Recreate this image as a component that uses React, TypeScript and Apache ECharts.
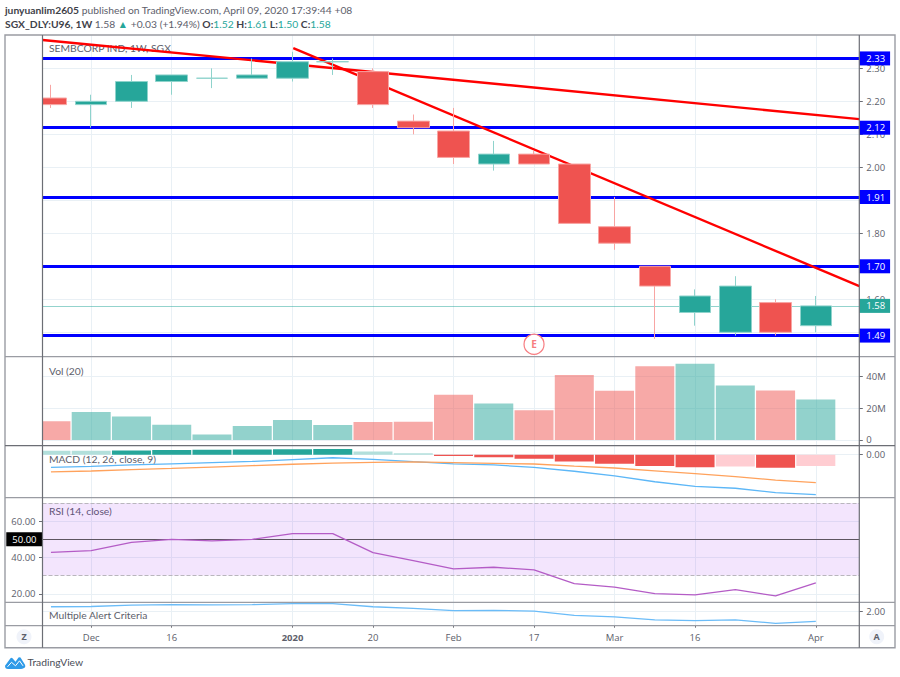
import React, { useEffect, useRef } from "react";
import * as echarts from "echarts";

const opens = [2.21, 2.19, 2.2, 2.26, 2.27, 2.27, 2.27, 2.32, 2.29, 2.14, 2.11, 2.01, 2.04, 2.01, 1.82, 1.7, 1.56, 1.5, 1.59, 1.52];
const closes = [2.19, 2.2, 2.26, 2.28, 2.27, 2.28, 2.32, 2.32, 2.19, 2.12, 2.03, 2.04, 2.01, 1.83, 1.77, 1.64, 1.61, 1.64, 1.5, 1.58];
const lows = [2.18, 2.12, 2.18, 2.22, 2.24, 2.27, 2.26, 2.28, 2.18, 2.1, 2.01, 1.99, 2.01, 1.83, 1.75, 1.48, 1.52, 1.49, 1.49, 1.5];
const highs = [2.25, 2.22, 2.28, 2.28, 2.3, 2.33, 2.35, 2.33, 2.3, 2.16, 2.18, 2.08, 2.05, 2.01, 1.91, 1.7, 1.63, 1.67, 1.6, 1.61];
const volumes = [11.8, 17.7, 14.8, 9.7, 3.5, 8.9, 12.6, 9.5, 11.3, 11.5, 28.5, 23.1, 18.8, 41, 31.1, 46.6, 48.2, 34.4, 31.3, 25.6];
const macdHist = [0.017, 0.017, 0.018, 0.02, 0.021, 0.022, 0.023, 0.024, 0.014, 0.006, -0.006, -0.011, -0.017, -0.029, -0.039, -0.049, -0.054, -0.051, -0.056, -0.049];
const macdLine = [-0.054, -0.05, -0.044, -0.039, -0.034, -0.029, -0.021, -0.013, -0.02, -0.03, -0.039, -0.044, -0.054, -0.071, -0.091, -0.116, -0.136, -0.144, -0.163, -0.171];
const signalLine = [-0.074, -0.07, -0.064, -0.059, -0.053, -0.047, -0.041, -0.036, -0.033, -0.031, -0.034, -0.037, -0.04, -0.049, -0.057, -0.069, -0.081, -0.094, -0.109, -0.12];
const rsi = [42.8, 43.8, 48.3, 50, 49.1, 50, 53.1, 53.1, 42.7, 38.3, 33.7, 34.6, 33.1, 25.6, 23.6, 20.1, 19.4, 22.3, 18.8, 26];

const timeTicks = [1, 3, 6, 8, 10, 12, 14, 16, 19];
const timeLabels = ["Dec", "16", "2020", "20", "Feb", "17", "Mar", "16", "Apr"];
const priceTicks = [1.5, 1.6, 1.7, 1.8, 1.9, 2.0, 2.1, 2.2, 2.3];
const priceLabels = [1.6, 1.8, 2.0, 2.1, 2.2, 2.3];
const levels = [2.33, 2.12, 1.91, 1.7, 1.49];
const lastClose = 1.58;
const trendA = [[-0.21, 2.386], [20.08, 2.146]];
const trendB = [[6.02, 2.361], [20.08, 1.64]];
const earningsAt = [12, 1.4636];

const X_MIN = -0.21;
const X_MAX = 20.08;
const UP = "#26a69a";
const DOWN = "#ef5350";
const FONT = "'Open Sans', sans-serif";
const LABEL_FONT = "Lato, sans-serif";
const LABEL_SIZE = 10.3;
const GRID_C = "#e9f0f5";
const TEXT_C = "#5d606b";
const FRAME = "#9a9ca3";
const DARK = "#6c6e75";

const left = 42.5;
const right = 859.3;
const paneY = [35, 356.7, 445.7, 497.7, 602.3, 625.7];
const bottomY = 647.7;

const logoPath =
  "M0 9 L5.5 1.5 Q6.5 0.5 7.5 1.5 L10.5 5 L13.5 0.8 Q14.5 0 15.5 0.8 L20 8 Q21 10.5 18.5 11.5 Q17.5 12.2 16 12.2 L3 12.2 Q0 12.2 0 9 Z";
echarts.graphic.registerShape("tvlogo", echarts.graphic.extendPath(logoPath, {}));

function xAxisFor(i: number, showLabels: boolean) {
  return {
    type: "value",
    gridIndex: i,
    min: X_MIN,
    max: X_MAX,
    position: "bottom",
    axisLine: { show: false, onZero: false },
    axisTick: { show: showLabels, customValues: timeTicks, length: 2, lineStyle: { color: DARK } },
    axisLabel: {
      show: showLabels,
      customValues: timeTicks,
      margin: 7,
      fontFamily: FONT,
      fontSize: 9.5,
      color: TEXT_C,
      formatter: (v: number) => {
        const s = timeLabels[timeTicks.indexOf(Math.round(v))] ?? "";
        return s === "2020" ? `{b|${s}}` : s;
      },
      rich: { b: { fontFamily: FONT, fontSize: 9.5, fontWeight: "bold", color: TEXT_C } },
    },
    splitLine: { show: true, lineStyle: { color: GRID_C, width: 1 } },
  };
}

function yAxisFor(
  i: number,
  min: number,
  max: number,
  ticks: number[],
  fmt: (v: number) => string,
  position = "right",
  labelValues: number[] = ticks,
) {
  return {
    type: "value",
    gridIndex: i,
    min,
    max,
    position,
    axisLine: { show: false, onZero: false },
    axisTick: { show: true, inside: false, customValues: ticks, length: 3.5, lineStyle: { color: DARK } },
    axisLabel: { customValues: labelValues, margin: 7, fontFamily: FONT, fontSize: 9.5, color: TEXT_C, formatter: fmt },
    splitLine: { show: true, lineStyle: { color: GRID_C, width: 1 } },
  };
}

function priceLine(v: number, color: string, lineType: string, width: number) {
  return {
    yAxis: v,
    lineStyle: { color, type: lineType, width },
    label: {
      show: true,
      position: "end",
      distance: 0,
      formatter: v.toFixed(2),
      backgroundColor: color,
      color: "#fff",
      fontFamily: FONT,
      fontSize: 9.5,
      lineHeight: 14,
      padding: [0, 5, 0, 7],
    },
  };
}

function label(text: string, y: number, color = TEXT_C) {
  return {
    type: "text",
    x: 49,
    y,
    z: 1,
    silent: true,
    style: { text, fill: color, font: `${LABEL_SIZE}px ${LABEL_FONT}`, verticalAlign: "middle" },
  };
}

function hLine(y: number, x1: number, x2: number, stroke = FRAME) {
  return { type: "line", z: 20, silent: true, shape: { x1, y1: y, x2, y2: y }, style: { stroke, lineWidth: 1.2 } };
}
function vLine(x: number, y1: number, y2: number, stroke = DARK) {
  return { type: "line", z: 20, silent: true, shape: { x1: x, y1, x2: x, y2 }, style: { stroke, lineWidth: 1.2 } };
}

const headerRich = {
  k: { fontFamily: LABEL_FONT, fontSize: LABEL_SIZE, fontWeight: "bold", fill: "#3f424a", color: "#3f424a" },
  n: { fontFamily: LABEL_FONT, fontSize: LABEL_SIZE, fill: "#5d606b", color: "#5d606b" },
  v: { fontFamily: LABEL_FONT, fontSize: LABEL_SIZE, fill: UP, color: UP },
};

export default function App() {
  const ref = useRef<HTMLDivElement>(null);
  useEffect(() => {
    document.body.style.margin = "0";
    document.body.style.background = "#fff";
    const chart = echarts.init(ref.current!, undefined, { renderer: "svg" });
    const idx = opens.map((_, i) => i);
    const grids = paneY.map((top, i) => ({
      left,
      width: right - left,
      top,
      height: (i < 5 ? paneY[i + 1] : bottomY) - top,
    })).slice(0, 5);

    chart.setOption({
      animation: false,
      backgroundColor: "#fff",
      grid: grids,
      xAxis: [xAxisFor(0, false), xAxisFor(1, false), xAxisFor(2, false), xAxisFor(3, false), xAxisFor(4, true)],
      yAxis: [
        yAxisFor(0, 1.426, 2.401, priceTicks, (v) => v.toFixed(2), "right", priceLabels),
        yAxisFor(1, -3.6, 52.6, [0, 20, 40], (v) => (v === 0 ? "0" : `${v}M`)),
        yAxisFor(2, -0.1845, 0.0386, [0], (v) => v.toFixed(2)),
        yAxisFor(3, 15.3, 72.9, [20, 40, 60], (v) => v.toFixed(2), "left"),
        yAxisFor(4, 1.4, 2.375, [2], (v) => v.toFixed(2)),
      ],
      series: [
        {
          type: "line",
          name: "Levels",
          xAxisIndex: 0,
          yAxisIndex: 0,
          z: 1,
          data: [],
          markLine: {
            silent: true,
            z: 1,
            symbol: "none",
            precision: 2,
            data: [
              ...levels.map((v) => priceLine(v, "#0000ff", "solid", 3)),
              priceLine(lastClose, UP, "dotted", 1),
            ],
          },
        },
        {
          type: "line",
          name: "Trend A",
          xAxisIndex: 0,
          yAxisIndex: 0,
          z: 2,
          data: trendA,
          symbol: "none",
          lineStyle: { color: "#ff0000", width: 2.4 },
        },
        {
          type: "line",
          name: "Trend B",
          xAxisIndex: 0,
          yAxisIndex: 0,
          z: 2,
          data: trendB,
          symbol: "none",
          lineStyle: { color: "#ff0000", width: 2.4 },
        },
        {
          type: "candlestick",
          name: "SEMBCORP IND",
          xAxisIndex: 0,
          yAxisIndex: 0,
          z: 3,
          barWidth: 32,
          clip: true,
          itemStyle: {
            color: UP,
            color0: DOWN,
            borderColor: "#8fd3cc",
            borderColor0: "#f8a5a3",
            borderColorDoji: "#8fd3cc",
            borderWidth: 1,
          },
          data: idx.map((i) => [i, opens[i], closes[i], lows[i], highs[i]]),
          markPoint: {
            silent: true,
            z: 6,
            symbol: "circle",
            symbolSize: 20,
            itemStyle: { color: "#fff", borderColor: "#f77c80", borderWidth: 1.2 },
            label: { show: true, formatter: "E", color: "#f77c80", fontFamily: FONT, fontSize: 10, fontWeight: "bold" },
            data: [{ coord: earningsAt }],
          },
        },
        {
          type: "bar",
          name: "Vol",
          xAxisIndex: 1,
          yAxisIndex: 1,
          barWidth: 39,
          clip: true,
          data: idx.map((i) => ({
            value: [i, volumes[i]],
            itemStyle: {
              color: closes[i] >= opens[i] ? "rgba(38,166,154,0.5)" : "rgba(239,83,80,0.5)",
            },
          })),
        },
        {
          type: "bar",
          name: "Histogram",
          xAxisIndex: 2,
          yAxisIndex: 2,
          barWidth: 39,
          clip: true,
          data: idx.map((i) => {
            const v = macdHist[i];
            const rising = i > 0 && Math.abs(v) > Math.abs(macdHist[i - 1]);
            const color = v >= 0 ? (rising ? UP : "#b2dfdb") : rising || macdHist[i - 1] > 0 ? DOWN : "#ffcdd2";
            return { value: [i, v], itemStyle: { color } };
          }),
        },
        {
          type: "line",
          name: "MACD",
          xAxisIndex: 2,
          yAxisIndex: 2,
          symbol: "none",
          z: 3,
          data: idx.map((i) => [i, macdLine[i]]),
          lineStyle: { color: "#5db7f7", width: 1.3 },
        },
        {
          type: "line",
          name: "Signal",
          xAxisIndex: 2,
          yAxisIndex: 2,
          symbol: "none",
          z: 3,
          data: idx.map((i) => [i, signalLine[i]]),
          lineStyle: { color: "#ffa25c", width: 1.3 },
        },
        {
          type: "line",
          name: "RSI",
          xAxisIndex: 3,
          yAxisIndex: 3,
          symbol: "none",
          z: 4,
          data: idx.map((i) => [i, rsi[i]]),
          lineStyle: { color: "#b45cc6", width: 1.3 },
          markArea: {
            silent: true,
            z: 1,
            itemStyle: { color: "rgba(135,0,235,0.1)" },
            data: [[{ yAxis: 70 }, { yAxis: 30 }]],
          },
          markLine: {
            silent: true,
            z: 3,
            symbol: "none",
            data: [
              { yAxis: 70, lineStyle: { color: "#b9b6bd", type: "dashed", width: 1 }, label: { show: false } },
              { yAxis: 30, lineStyle: { color: "#b9b6bd", type: "dashed", width: 1 }, label: { show: false } },
              {
                yAxis: 50,
                lineStyle: { color: "#5d5560", type: "solid", width: 1 },
                label: {
                  show: true,
                  position: "start",
                  distance: 0,
                  formatter: "50.00",
                  backgroundColor: "#000",
                  color: "#fff",
                  fontFamily: FONT,
                  fontSize: 9.5,
                  lineHeight: 14,
                  padding: [0, 6, 0, 6],
                },
              },
            ],
          },
        },
        {
          type: "line",
          name: "Multiple Alert Criteria",
          xAxisIndex: 4,
          yAxisIndex: 4,
          symbol: "none",
          z: 3,
          data: idx.map((i) => [i, closes[i]]),
          lineStyle: { color: "#6bbcf8", width: 1.3 },
        },
      ],
      graphic: {
        elements: [
          {
            type: "text",
            x: 5,
            y: 10,
            silent: true,
            style: {
              text: "{k|junyuanlim2605} {n|published on TradingView.com, April 09, 2020 17:39:44 +08}",
              rich: headerRich,
              verticalAlign: "middle",
              font: `${LABEL_SIZE}px ${LABEL_FONT}`,
            },
          },
          {
            type: "text",
            x: 5,
            y: 23.5,
            silent: true,
            style: {
              text: "{k|SGX_DLY:U96, 1W} {n|1.58} {v|▲} {n|+0.03 (+1.94%)} {k|O:}{v|1.52} {k|H:}{v|1.61} {k|L:}{v|1.50} {k|C:}{v|1.58}",
              rich: headerRich,
              verticalAlign: "middle",
              font: `${LABEL_SIZE}px ${LABEL_FONT}`,
            },
          },
          // hides the part of the first, cut-off candle and bars that falls left of the plot
          {
            type: "rect",
            z: 10,
            silent: true,
            shape: { x: 5, y: 35, width: left - 5, height: paneY[3] - 35 },
            style: { fill: "#fff" },
          },
          label("SEMBCORP IND, 1W, SGX", 48),
          label("Vol (20)", 370.7),
          label("MACD (12, 26, close, 9)", 459),
          label("RSI (14, close)", 511.3),
          label("Multiple Alert Criteria", 615.3),
          {
            type: "rect",
            z: 20,
            silent: true,
            shape: { x: 5, y: 35, width: 890, height: bottomY - 35 },
            style: { fill: "none", stroke: FRAME, lineWidth: 1.4 },
          },
          hLine(paneY[1], 5, 895),
          hLine(paneY[2], 5, 895, DARK),
          hLine(paneY[3], 5, 895),
          hLine(paneY[4], 5, 895),
          hLine(paneY[5], 5, 895),
          vLine(left, 35, bottomY),
          vLine(right, 35, bottomY),
          { type: "circle", silent: true, shape: { cx: 24, cy: 636.7, r: 7.5 }, style: { fill: "#f0f3fa" } },
          { type: "circle", silent: true, shape: { cx: 876.7, cy: 636.7, r: 7.5 }, style: { fill: "#f0f3fa" } },
          {
            type: "text",
            x: 24,
            y: 636.7,
            silent: true,
            style: { text: "Z", fill: TEXT_C, font: `bold 9px ${FONT}`, align: "center", verticalAlign: "middle" },
          },
          {
            type: "text",
            x: 876.7,
            y: 636.7,
            silent: true,
            style: { text: "A", fill: TEXT_C, font: `bold 9px ${FONT}`, align: "center", verticalAlign: "middle" },
          },
          { type: "tvlogo", x: 5, y: 656.8, silent: true, style: { fill: "#2f9be8" } },
          {
            type: "polyline",
            x: 5,
            y: 656.8,
            silent: true,
            shape: { points: [[2.5, 10], [6.5, 5.5], [10.5, 9], [14.5, 4], [18, 9]] },
            style: { fill: "none", stroke: "#ffffff", lineWidth: 1 },
          },
          {
            type: "text",
            x: 27.5,
            y: 662,
            silent: true,
            style: { text: "TradingView", fill: "#4a4d57", font: `${LABEL_SIZE}px ${LABEL_FONT}`, verticalAlign: "middle" },
          },
        ],
      },
    });
    return () => chart.dispose();
  }, []);
  return <div ref={ref} style={{ width: 900, height: 677 }} />;
}
